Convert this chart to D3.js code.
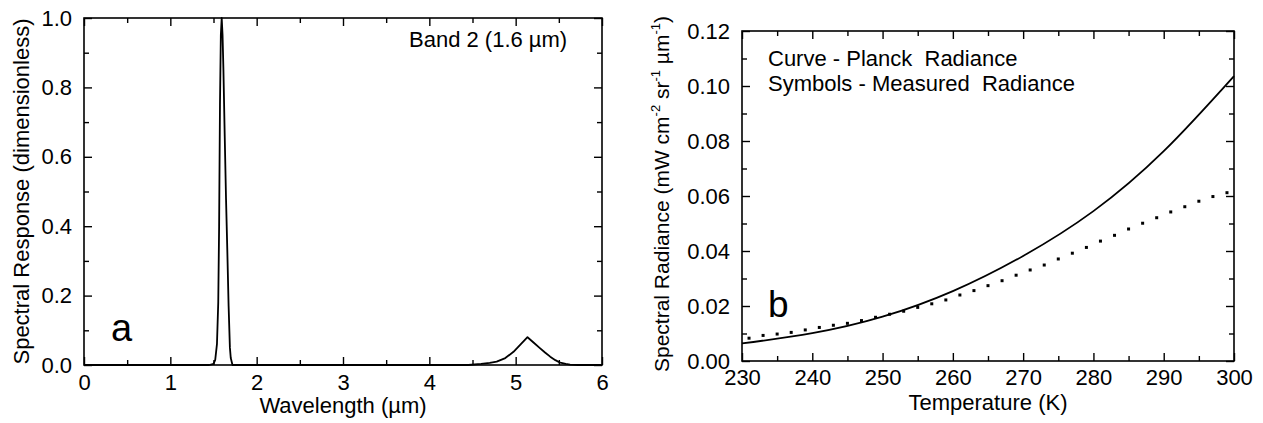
<!DOCTYPE html>
<html>
<head>
<meta charset="utf-8">
<script src="https://cdn.jsdelivr.net/npm/d3@7"></script>
<style>
  body { margin: 0; background: #fff; }
  text { font-family: "Liberation Sans", Arial, Helvetica, sans-serif; fill: #000; }
</style>
</head>
<body>
<svg id="chart"></svg>
<script>
// Panel a: spectral response of band 2
const wavelengths = [0, 1.45, 1.50, 1.52, 1.54, 1.555, 1.565, 1.575, 1.585, 1.595, 1.605, 1.615, 1.63, 1.645, 1.66, 1.675, 1.69, 1.70, 1.72,
  4.45, 4.6, 4.7, 4.78, 4.88, 4.975, 5.06, 5.137, 5.21, 5.284, 5.34, 5.40, 5.46, 5.516, 5.58, 5.63, 5.72, 6];
const responses = [0, 0, 0.003, 0.015, 0.06, 0.18, 0.40, 0.75, 0.95, 1.0, 0.95, 0.85, 0.66, 0.48, 0.33, 0.17, 0.05, 0.02, 0,
  0, 0.003, 0.006, 0.0095, 0.02, 0.038, 0.06, 0.08, 0.064, 0.048, 0.036, 0.024, 0.014, 0.0067, 0.003, 0.001, 0, 0];
const wlTicks = [0, 1, 2, 3, 4, 5, 6];
const respTicks = [0, 0.2, 0.4, 0.6, 0.8, 1.0];

// Panel b: Planck radiance (curve) and measured radiance (symbols)
const planckTemps = [230, 240, 250, 260, 270, 280, 290, 300];
const planckValues = [0.0064, 0.0101, 0.0161, 0.0254, 0.0382, 0.0545, 0.0763, 0.1036];
const measuredTemps = [231, 233, 235, 237, 239, 241, 243, 245, 247, 249, 251, 253, 255, 257, 259, 261, 263, 265,
  267, 269, 271, 273, 275, 277, 279, 281, 283, 285, 287, 289, 291, 293, 295, 297, 299];
const measuredValues = [0.0083, 0.0093, 0.0098, 0.0104, 0.0113, 0.0122, 0.0130, 0.0137, 0.0147, 0.0159, 0.0170, 0.0181,
  0.0195, 0.0208, 0.0222, 0.0240, 0.0256, 0.0274, 0.0292, 0.0312, 0.0331, 0.0349, 0.0371, 0.0392, 0.0413, 0.0436,
  0.0457, 0.0480, 0.0501, 0.0521, 0.0542, 0.0561, 0.0581, 0.0598, 0.0612];
const tempTicks = [230, 240, 250, 260, 270, 280, 290, 300];
const radTicks = [0, 0.02, 0.04, 0.06, 0.08, 0.10, 0.12];

const width = 1263;
const height = 423;
const svg = d3.select('#chart').attr('width', width).attr('height', height);

// draws frame + inward ticks on all four sides
function drawFrame(g, x, y, xMajor, xMinor, yMajor, yMinor, yFmt, xPad) {
  const [x0, x1] = x.range();
  const [y0, y1] = y.range();
  const w = x1 - x0, h = y0 - y1;

  // bottom, with labels
  g.append('g').attr('transform', `translate(0,${y0})`)
    .call(d3.axisBottom(x).tickValues(xMajor).tickSize(-8).tickPadding(xPad).tickFormat(d3.format('d')));
  g.append('g').attr('transform', `translate(0,${y0})`)
    .call(d3.axisBottom(x).tickValues(xMinor).tickSize(-5).tickFormat(''));
  // top
  g.append('g').attr('transform', `translate(0,${y1})`)
    .call(d3.axisTop(x).tickValues(xMajor).tickSize(-8).tickFormat(''));
  g.append('g').attr('transform', `translate(0,${y1})`)
    .call(d3.axisTop(x).tickValues(xMinor).tickSize(-5).tickFormat(''));
  // left, with labels
  g.append('g').attr('transform', `translate(${x0},0)`)
    .call(d3.axisLeft(y).tickValues(yMajor).tickSize(-8).tickPadding(12).tickFormat(yFmt));
  g.append('g').attr('transform', `translate(${x0},0)`)
    .call(d3.axisLeft(y).tickValues(yMinor).tickSize(-5).tickFormat(''));
  // right
  g.append('g').attr('transform', `translate(${x1},0)`)
    .call(d3.axisRight(y).tickValues(yMajor).tickSize(-8).tickFormat(''));
  g.append('g').attr('transform', `translate(${x1},0)`)
    .call(d3.axisRight(y).tickValues(yMinor).tickSize(-5).tickFormat(''));

  g.selectAll('.domain').remove();
  g.selectAll('.tick line').attr('stroke', '#000').attr('stroke-width', 1.4);
  g.selectAll('.tick text')
    .attr('font-size', '22px')
    .attr('font-family', '"Liberation Sans", Arial, sans-serif')
    .attr('fill', '#000');

  g.append('rect')
    .attr('x', x0).attr('y', y1).attr('width', w).attr('height', h)
    .attr('fill', 'none').attr('stroke', '#000').attr('stroke-width', 1.6);
}

// ---------- Panel a ----------
const xa = d3.scaleLinear().domain([0, 6]).range([84, 602]);
const ya = d3.scaleLinear().domain([0, 1]).range([365, 18]);
const ga = svg.append('g');

ga.append('path')
  .datum(wavelengths.map((w, i) => [w, responses[i]]))
  .attr('d', d3.line().x(d => xa(d[0])).y(d => ya(d[1])))
  .attr('fill', 'none')
  .attr('stroke', '#000')
  .attr('stroke-width', 1.8)
  .attr('stroke-linejoin', 'round');

drawFrame(ga, xa, ya, wlTicks, [0.5, 1.5, 2.5, 3.5, 4.5, 5.5],
  respTicks, [0.1, 0.3, 0.5, 0.7, 0.9], d3.format('.1f'), 9);

ga.append('text')
  .attr('x', 409).attr('y', 47)
  .attr('font-size', '22px')
  .text('Band 2 (1.6 \u00b5m)');

ga.append('text')
  .attr('x', 111).attr('y', 341)
  .attr('font-size', '38px')
  .text('a');

ga.append('text')
  .attr('x', (84 + 602) / 2).attr('y', 413)
  .attr('text-anchor', 'middle')
  .attr('font-size', '22px')
  .text('Wavelength (\u00b5m)');

ga.append('text')
  .attr('transform', `translate(29,${(18 + 365) / 2}) rotate(-90)`)
  .attr('text-anchor', 'middle')
  .attr('font-size', '22px')
  .text('Spectral Response (dimensionless)');

// ---------- Panel b ----------
const xb = d3.scaleLinear().domain([230, 300]).range([742, 1234]);
const yb = d3.scaleLinear().domain([0, 0.12]).range([361, 31]);
const gb = svg.append('g');

gb.append('path')
  .datum(planckTemps.map((t, i) => [t, planckValues[i]]))
  .attr('d', d3.line().x(d => xb(d[0])).y(d => yb(d[1])).curve(d3.curveNatural))
  .attr('fill', 'none')
  .attr('stroke', '#000')
  .attr('stroke-width', 1.8);

gb.selectAll('.meas')
  .data(measuredTemps.map((t, i) => [t, measuredValues[i]]))
  .enter().append('rect')
  .attr('class', 'meas')
  .attr('x', d => xb(d[0]) - 1.5)
  .attr('y', d => yb(d[1]) - 1.5)
  .attr('width', 3)
  .attr('height', 3)
  .attr('fill', '#000');

drawFrame(gb, xb, yb, tempTicks, [235, 245, 255, 265, 275, 285, 295],
  radTicks, [0.01, 0.03, 0.05, 0.07, 0.09, 0.11], d3.format('.2f'), 8);

gb.append('text')
  .attr('x', 768).attr('y', 66)
  .attr('font-size', '22px')
  .style('white-space', 'pre')
  .text('Curve - Planck  Radiance');

gb.append('text')
  .attr('x', 768).attr('y', 91)
  .attr('font-size', '22px')
  .style('white-space', 'pre')
  .text('Symbols - Measured  Radiance');

gb.append('text')
  .attr('x', 768).attr('y', 317)
  .attr('font-size', '37px')
  .text('b');

gb.append('text')
  .attr('x', (742 + 1234) / 2).attr('y', 410)
  .attr('text-anchor', 'middle')
  .attr('font-size', '22px')
  .text('Temperature (K)');

// y label with superscripts
const yLab = gb.append('text')
  .attr('transform', `translate(669,${(31 + 361) / 2 - 2}) rotate(-90)`)
  .attr('text-anchor', 'middle')
  .attr('font-size', '21px');
yLab.append('tspan').text('Spectral Radiance (mW cm');
yLab.append('tspan').attr('dy', -9).attr('font-size', '13px').text('-2');
yLab.append('tspan').attr('dy', 9).text(' sr');
yLab.append('tspan').attr('dy', -9).attr('font-size', '13px').text('-1');
yLab.append('tspan').attr('dy', 9).text(' \u00b5m');
yLab.append('tspan').attr('dy', -9).attr('font-size', '13px').text('-1');
yLab.append('tspan').attr('dy', 9).text(')');
</script>
</body>
</html>
